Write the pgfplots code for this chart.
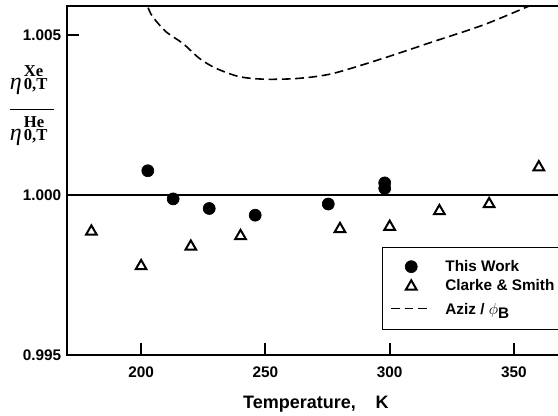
\documentclass[border=0pt]{standalone}
\usepackage{fontspec}
\setmainfont{Liberation Sans}
\newfontfamily\serif{Liberation Serif}
\usepackage{pgfplots}
\pgfplotsset{compat=1.18}

% eta with stacked super/subscript, as in the original label
\newcommand\etaterm[1]{\hbox{{\fontsize{18}{18}\serif\itshape η}\kern1.5pt
  \vbox{\fontsize{12.5}{10}\serif\bfseries\baselineskip=9.75pt\lineskiplimit=-20pt
    \hbox{#1}\hbox{0,T}}\kern5pt}}
\newcommand\ratiolabel{\vbox{\hbox{\etaterm{Xe}}\kern10.5pt\hrule height 1.2pt\kern4.5pt\hbox{\etaterm{He}}}}

\begin{document}
\begin{tikzpicture}
\begin{axis}[
  scale only axis, width=376.6pt, height=261.75pt,
  at={(49.9pt,45pt)}, anchor=south west,
  xmin=170, xmax=372, ymin=0.995, ymax=1.00591,
  xtick={200,250,300,350}, ytick={0.995,1.000,1.005},
  xtick pos=left, ytick pos=left, tick align=inside,
  major tick length=9pt,
  every tick/.style={black, line width=1.5pt},
  axis line style={line width=1.5pt},
  scaled y ticks=false,
  /pgf/number format/assume math mode=true,
  tick label style={font=\fontsize{11.5}{13}\selectfont\bfseries},
  y tick label style={/pgf/number format/.cd, fixed, fixed zerofill, precision=3},
  xticklabel shift=5.5pt, yticklabel shift=0.5pt,
  xlabel={Temperature,\hspace{1.1em}K},
  xlabel style={at={(axis description cs:0.4966,0)}, anchor=base, yshift=-39.75pt,
    font=\fontsize{13.5}{16}\selectfont\bfseries},
  ylabel={\ratiolabel},
  ylabel style={at={(axis description cs:-0.0687,0.715)}, rotate=-90, anchor=center},
  legend image code/.code={\draw[mark repeat=2,mark phase=2,#1] plot coordinates {(0pt,0pt)(15pt,0pt)(30pt,0pt)};},
  legend cell align=left,
  legend style={at={(axis description cs:0.6277,0.3103)}, anchor=north west,
    draw=black, line width=1.1pt, font=\fontsize{11.5}{13}\selectfont\bfseries,
    inner xsep=6pt, inner ysep=7.5pt, row sep=1pt,
    /tikz/every odd column/.append style={column sep=8pt}},
]
\addplot[black, line width=1.5pt, forget plot] coordinates {(170,1.000)(372,1.000)};

\addplot[only marks, mark=*, mark size=4.5pt, mark options={fill=black, draw=black, line width=0.5pt}] coordinates {
  (202.7,1.00076) (212.9,0.99988) (227.4,0.99958) (245.9,0.99937)
  (275.3,0.99972) (298.0,1.00038) (298.0,1.00021)};
\addlegendentry{This Work}

\addplot[only marks, mark=triangle, mark size=4.6pt, mark options={draw=black, fill=white, line width=1.5pt}] coordinates {
  (180,0.99886) (200,0.99778) (220,0.99839) (240,0.99872) (280,0.99894)
  (300,0.99901) (320,0.99950) (340,0.99972) (360,1.00087)};
\addlegendentry{Clarke \& Smith}

\addplot[black, line width=1.2pt, dash pattern=on 6.5pt off 3.5pt, smooth, tension=0.5] coordinates {
  (201.0,1.00625) (202.7,1.00588) (204.7,1.00557) (210.1,1.00510) (216.8,1.00474)
  (223.5,1.00427) (230.2,1.00396) (239.6,1.00370) (250.3,1.00362) (263.7,1.00365)
  (277.1,1.00380) (297.2,1.00427) (317.3,1.00479) (337.4,1.00531) (354.9,1.00587)
  (362.0,1.00612) (372.0,1.00645)};
\addlegendentry{\rule{0pt}{11.5pt}Aziz / $\phi$\raisebox{-3pt}{B}}
\end{axis}
\pgfresetboundingbox
\path[use as bounding box] (0,0) rectangle (418.5pt,311.25pt);
\end{tikzpicture}
\end{document}
